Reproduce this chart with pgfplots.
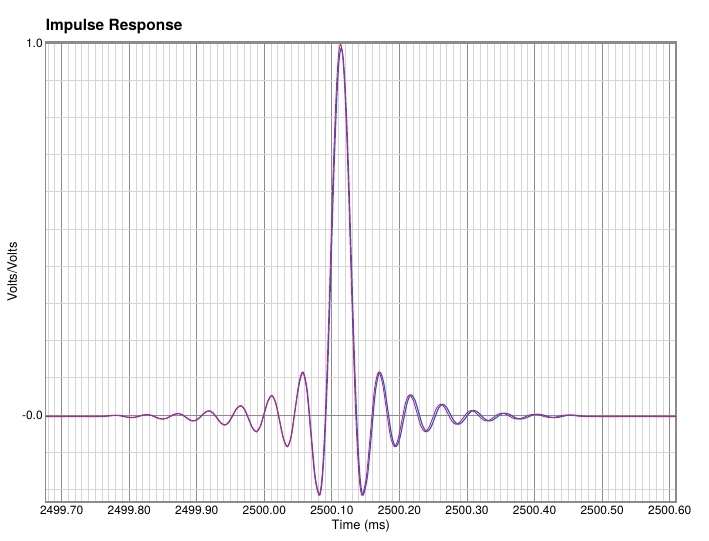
\documentclass[border=0pt]{standalone}
\usepackage{fontspec}
\setmainfont{TeX Gyre Heros}
\usepackage{pgfplots}
\pgfplotsset{compat=1.18}
\usepackage{pgfplotstable}
\definecolor{cblue}{RGB}{40,90,225}
\definecolor{cmag}{RGB}{200,30,115}
\definecolor{gmaj}{RGB}{140,140,140}
\definecolor{gmin}{RGB}{214,214,214}
% x = time minus 2500 ms
\pgfplotstableread{
x y
-0.3236 -0.004
-0.3000 -0.004
-0.2700 -0.004
-0.2420 -0.004
-0.2362 -0.0036
-0.2305 -0.0025
-0.2247 -0.0014
-0.2190 -0.001
-0.2133 -0.0019
-0.2077 -0.004
-0.2020 -0.0061
-0.1964 -0.007
-0.1906 -0.0058
-0.1848 -0.003
-0.1791 -0.0002
-0.1733 0.001
-0.1676 -0.0008
-0.1619 -0.005
-0.1562 -0.0092
-0.1505 -0.011
-0.1447 -0.0088
-0.1390 -0.0035
-0.1332 0.0018
-0.1275 0.004
-0.1219 0.0011
-0.1162 -0.006
-0.1106 -0.0131
-0.1050 -0.016
-0.0992 -0.0121
-0.0933 -0.0025
-0.0875 0.0071
-0.0817 0.011
-0.0759 0.0054
-0.0701 -0.008
-0.0643 -0.0214
-0.0585 -0.027
-0.0526 -0.0194
-0.0467 -0.001
-0.0409 0.0174
-0.0350 0.025
-0.0292 0.0148
-0.0233 -0.010
-0.0175 -0.0348
-0.0117 -0.045
-0.0060 -0.0308
-0.0003 0.0035
0.0054 0.0378
0.0111 0.052
0.0169 0.0319
0.0227 -0.0165
0.0285 -0.0649
0.0343 -0.085
0.0399 -0.0557
0.0456 0.015
0.0512 0.0857
0.0568 0.115
0.0628 0.0667
0.0687 -0.05
0.0747 -0.1667
0.0806 -0.215
0.0835 -0.198
0.0858 -0.156
0.0880 -0.089
0.0903 0
0.0931 0.139
0.0959 0.299
0.0987 0.469
0.1015 0.635
0.1044 0.782
0.1072 0.898
0.1100 0.972
0.1128 0.997
0.1156 0.972
0.1184 0.898
0.1213 0.782
0.1241 0.635
0.1269 0.469
0.1297 0.299
0.1325 0.139
0.1353 0
0.1376 -0.089
0.1398 -0.156
0.1421 -0.198
0.1450 -0.215
0.1510 -0.1667
0.1570 -0.05
0.1629 0.0667
0.1689 0.115
0.1748 0.0857
0.1807 0.015
0.1865 -0.0557
0.1924 -0.085
0.1980 -0.0646
0.2035 -0.0155
0.2091 0.0336
0.2146 0.054
0.2204 0.0395
0.2261 0.0045
0.2319 -0.0305
0.2376 -0.045
0.2434 -0.0342
0.2492 -0.008
0.2549 0.0182
0.2607 0.029
0.2664 0.0211
0.2721 0.002
0.2778 -0.0171
0.2835 -0.025
0.2891 -0.0196
0.2948 -0.0065
0.3004 0.0066
0.3060 0.012
0.3117 0.0079
0.3174 -0.002
0.3230 -0.0119
0.3287 -0.016
0.3343 -0.0129
0.3400 -0.0055
0.3456 0.0019
0.3512 0.005
0.3569 0.0027
0.3625 -0.003
0.3682 -0.0087
0.3738 -0.011
0.3800 -0.0091
0.3862 -0.0045
0.3923 0.0001
0.3985 0.002
0.4049 0.0007
0.4113 -0.0025
0.4176 -0.0057
0.4240 -0.007
0.4300 -0.006
0.4360 -0.0035
0.4420 -0.001
0.4480 0.000
0.4540 -0.0006
0.4600 -0.002
0.4660 -0.0034
0.4720 -0.004
0.5000 -0.004
0.5500 -0.004
0.6093 -0.004
}\magdata
\pgfplotstableread{
x y
-0.3236 -0.004
-0.3000 -0.004
-0.2700 -0.004
-0.2420 -0.004
-0.2362 -0.0036
-0.2305 -0.0025
-0.2247 -0.0014
-0.2190 -0.001
-0.2133 -0.0019
-0.2077 -0.004
-0.2020 -0.0061
-0.1964 -0.007
-0.1906 -0.0058
-0.1848 -0.003
-0.1791 -0.0002
-0.1733 0.001
-0.1676 -0.0008
-0.1619 -0.005
-0.1562 -0.0092
-0.1505 -0.011
-0.1447 -0.0088
-0.1390 -0.0035
-0.1332 0.0018
-0.1275 0.004
-0.1219 0.0011
-0.1162 -0.006
-0.1106 -0.0131
-0.1050 -0.016
-0.0992 -0.0121
-0.0933 -0.0025
-0.0875 0.0071
-0.0817 0.011
-0.0759 0.0054
-0.0701 -0.008
-0.0643 -0.0214
-0.0585 -0.027
-0.0526 -0.0194
-0.0467 -0.001
-0.0409 0.0174
-0.0350 0.025
-0.0292 0.0148
-0.0233 -0.010
-0.0175 -0.0348
-0.0117 -0.045
-0.0060 -0.0308
-0.0003 0.0035
0.0054 0.0378
0.0111 0.052
0.0169 0.0319
0.0227 -0.0165
0.0285 -0.0649
0.0343 -0.085
0.0399 -0.0557
0.0456 0.015
0.0518 0.0857
0.0574 0.115
0.0634 0.0667
0.0693 -0.05
0.0753 -0.1667
0.0812 -0.215
0.0842 -0.198
0.0865 -0.156
0.0888 -0.089
0.0911 0
0.0940 0.137
0.0968 0.296
0.0997 0.464
0.1025 0.628
0.1054 0.773
0.1082 0.888
0.1110 0.961
0.1138 0.986
0.1166 0.961
0.1194 0.888
0.1223 0.773
0.1251 0.628
0.1279 0.464
0.1308 0.296
0.1336 0.137
0.1365 0
0.1388 -0.089
0.1411 -0.156
0.1434 -0.198
0.1464 -0.215
0.1525 -0.1667
0.1586 -0.05
0.1646 0.0667
0.1707 0.115
0.1767 0.0857
0.1827 0.015
0.1885 -0.0557
0.1945 -0.085
0.2002 -0.0646
0.2058 -0.0155
0.2115 0.0336
0.2171 0.054
0.2230 0.0395
0.2287 0.0045
0.2346 -0.0305
0.2404 -0.045
0.2462 -0.0342
0.2521 -0.008
0.2579 0.0182
0.2637 0.029
0.2695 0.0211
0.2753 0.002
0.2811 -0.0171
0.2869 -0.025
0.2926 -0.0196
0.2984 -0.0065
0.3041 0.0066
0.3098 0.012
0.3156 0.0079
0.3214 -0.002
0.3271 -0.0119
0.3329 -0.016
0.3386 -0.0129
0.3444 -0.0055
0.3501 0.0019
0.3558 0.005
0.3616 0.0027
0.3673 -0.003
0.3731 -0.0087
0.3788 -0.011
0.3851 -0.0091
0.3914 -0.0045
0.3976 0.0001
0.4039 0.002
0.4104 0.0007
0.4169 -0.0025
0.4233 -0.0057
0.4298 -0.007
0.4359 -0.006
0.4420 -0.0035
0.4480 -0.001
0.4540 0.000
0.4600 -0.0006
0.4660 -0.002
0.4720 -0.0034
0.4780 -0.004
0.5000 -0.004
0.5500 -0.004
0.6093 -0.004
}\bluedata
\begin{document}
\begin{tikzpicture}
\begin{axis}[
  scale only axis, width=630.3bp, height=460bp,
  xmin=-0.3236, xmax=0.6093, ymin=-0.234, ymax=1.003,
  xtick={-0.3,-0.2,-0.1,0,0.1,0.2,0.3,0.4,0.5,0.6},
  xticklabels={2499.70,2499.80,2499.90,2500.00,2500.10,2500.20,2500.30,2500.40,2500.50,2500.60},
  ytick={0,1}, yticklabels={-0.0,1.0},
  minor xtick={-0.32,-0.31,...,0.605},
  minor ytick={-0.2,-0.1,0.1,0.2,0.3,0.4,0.5,0.6,0.7,0.8,0.9},
  grid=both,
  major grid style={draw=gmaj, line width=0.9bp},
  minor grid style={draw=gmin, line width=0.9bp},
  major tick length=0pt, minor tick length=0pt,
  axis line style={draw=gmaj, line width=1.3bp},
  ticklabel style={font=\fontsize{12}{14}\selectfont, text=black},
  xticklabel style={yshift=-0.5bp},
  yticklabel style={xshift=0.5bp},
  xlabel={Time (ms)}, ylabel={Volts/Volts},
  label style={font=\fontsize{13}{15}\selectfont},
  xlabel style={yshift=1.5bp},
  ylabel style={yshift=-2bp},
  clip=true,
]
\addplot[cblue, line width=1.2bp, smooth] table[x=x,y=y] {\bluedata};
\addplot[cmag, line width=0.9bp, smooth] table[x=x,y=y] {\magdata};
\end{axis}
\node[anchor=base west, inner sep=0pt, font=\bfseries\fontsize{15.5}{18}\selectfont] at ([yshift=11bp]current axis.north west) {Impulse Response};
\pgfresetboundingbox
\path[use as bounding box] (-45.7bp,-39bp) rectangle (663.3bp,502bp);
\end{tikzpicture}
\end{document}
